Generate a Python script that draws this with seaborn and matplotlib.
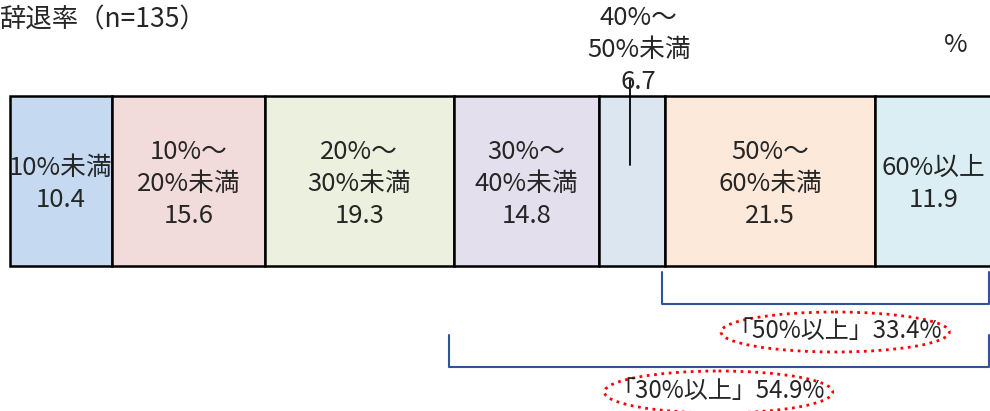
import numpy as np
import matplotlib
matplotlib.use('Agg')
import matplotlib.pyplot as plt
from matplotlib.patches import Ellipse
import seaborn as sns

# data
labels = ['10%未満', '10%～\n20%未満', '20%～\n30%未満', '30%～\n40%未満',
          '40%～\n50%未満', '50%～\n60%未満', '60%以上']
values = [10.4, 15.6, 19.3, 14.8, 6.7, 21.5, 11.9]
colors = ['#c5d9f1', '#f2dcdb', '#ebf1de', '#e4dfec', '#dce6f1', '#fde9d9', '#daeef3']
title = '辞退率（n=135）'
summary_50 = '「50%以上」33.4%'
summary_30 = '「30%以上」54.9%'

sns.set_theme(style='white')
plt.rcParams['font.family'] = ['Noto Sans CJK JP', 'DejaVu Sans']

fig = plt.figure(figsize=(9.9, 4.11), dpi=100)
ax = fig.add_axes([0, 0, 1, 1])
# x in percent, y in pixels from top
ax.set_xlim(-10 / 9.8, 100)
ax.set_ylim(411, 0)
ax.axis('off')

lefts = np.concatenate([[0], np.cumsum(values)[:-1]])
ax.barh([181] * len(values), values, left=lefts, height=170,
        color=colors, edgecolor='black', linewidth=1.8)

fs = 18.5
for i, (lab, v, l) in enumerate(zip(labels, values, lefts)):
    cx = l + v / 2
    txt = f'{lab}\n{v:.1f}'
    if i == 4:
        ax.text(cx + 0.7, 50, txt, ha='center', va='center', fontsize=fs, linespacing=1.3)
        ax.plot([cx - 0.2, cx - 0.2], [80, 165], color='black', lw=1.3)
    else:
        ax.text(cx, 184, txt, ha='center', va='center', fontsize=fs, linespacing=1.3)

ax.text(-10 / 9.8, 20, title, ha='left', va='center', fontsize=19)
ax.text(96.5, 45, '%', ha='center', va='center', fontsize=fs)

# brackets
s50 = lefts[5]
s30 = lefts[3]
ax.plot([s50 - 0.3, s50 - 0.3, 99.9, 99.9], [272, 304, 304, 272], color='#2f5597', lw=1.5)
ax.plot([s30 - 0.5, s30 - 0.5, 99.9, 99.9], [335, 367, 367, 335], color='#2f5597', lw=1.5)

# summary labels with dotted ellipses
ax.text(84.2, 331, summary_50, ha='center', va='center', fontsize=17.3)
ax.add_patch(Ellipse((84.2, 332), 23.3, 40, fill=False, edgecolor='red',
                     linestyle=':', lw=2))
ax.text(72.3, 391, summary_30, ha='center', va='center', fontsize=17.3)
ax.add_patch(Ellipse((72.3, 392), 23.3, 42, fill=False, edgecolor='red',
                     linestyle=':', lw=2))

fig.savefig('out.png', dpi=100)
